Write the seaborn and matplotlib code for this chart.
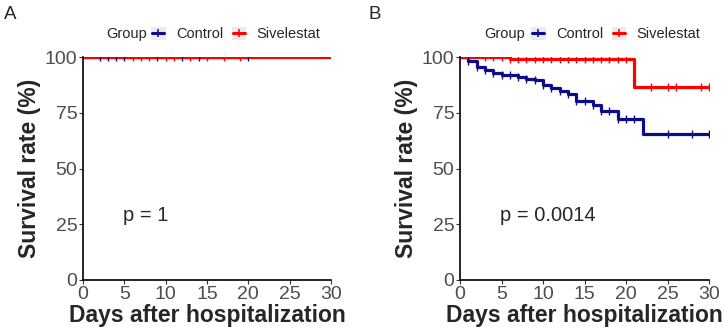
import matplotlib
matplotlib.use("Agg")
import numpy as np
import pandas as pd
import seaborn as sns
import matplotlib.pyplot as plt
from matplotlib.legend_handler import HandlerBase
from matplotlib.patches import Rectangle
from matplotlib.lines import Line2D

# ---------------- data ----------------
groups = ["Control", "Sivelestat"]
colors = {"Control": "#0B0B8C", "Sivelestat": "#FF0000"}

# Panel A
a_ctrl_time = [0, 20]
a_ctrl_surv = [100, 100]
a_ctrl_cens = [2, 3, 4, 5, 9, 12, 14, 20]
a_siv_time = [0, 30]
a_siv_surv = [100, 100]
a_siv_cens = [6, 7, 8, 10, 11, 13, 15, 17, 19]
a_pval = "p = 1"

# Panel B
b_ctrl_time = [0, 1, 2, 3, 4, 5, 7, 8, 9, 10, 11, 12, 13, 14, 16, 17, 19, 22, 30]
b_ctrl_surv = [100, 98.4, 95.5, 94.2, 93.0, 92.1, 91.1, 90.2, 89.5, 87.6, 86.0,
               84.6, 83.2, 80.4, 78.5, 75.6, 72.0, 65.6, 65.6]
b_ctrl_cens = [1, 2, 3, 4, 5, 6, 7, 8, 9, 10, 11, 12, 13, 14, 15, 16, 17, 18,
               19, 20, 21, 25, 28, 30]
b_siv_time = [0, 6, 21, 30]
b_siv_surv = [100, 98.9, 86.6, 86.6]
b_siv_cens = [3, 4, 5, 6, 7, 8, 9, 10, 11, 12, 13, 14, 15, 16, 17, 18, 19, 20,
              23, 25, 26, 29, 30]
b_pval = "p = 0.0014"

x_ticks = [0, 5, 10, 15, 20, 25, 30]
y_ticks = [0, 25, 50, 75, 100]

# ---------------- style ----------------
sns.set_theme(style="white")
plt.rcParams["font.family"] = ["Liberation Sans", "DejaVu Sans"]

W, H = 724, 331
fig = plt.figure(figsize=(W / 100, H / 100), dpi=100)


def step_value(times, survs, t):
    idx = np.searchsorted(np.asarray(times), t, side="right") - 1
    return survs[idx]


class KeyHandler(HandlerBase):
    def create_artists(self, legend, orig_handle, xdescent, ydescent,
                       width, height, fontsize, trans):
        rect = Rectangle((-xdescent, -ydescent), width, height,
                         facecolor="#EBEBEB", edgecolor="none", transform=trans)
        y = -ydescent + height / 2
        ln = Line2D([-xdescent + 1, -xdescent + width - 1], [y, y],
                    color=orig_handle.get_color(), lw=2.2, transform=trans)
        mk = Line2D([-xdescent + width / 2], [y], marker="|", markersize=6,
                    mew=1.1, color=orig_handle.get_color(), lw=0,
                    transform=trans)
        return [rect, ln, mk]


def panel(rect, data, pval, letter, letter_x, group_x, leg_x):
    ax = fig.add_axes(rect)
    frames = []
    cens_frames = []
    for g, (tt, ss, cc) in data.items():
        frames.append(pd.DataFrame({"time": tt, "surv": ss, "Group": g}))
        cens_frames.append(pd.DataFrame({
            "time": cc,
            "surv": [step_value(tt, ss, c) for c in cc],
            "Group": g}))
    df = pd.concat(frames, ignore_index=True)
    dc = pd.concat(cens_frames, ignore_index=True)
    for g in groups:
        sub = df[df.Group == g]
        sns.lineplot(data=sub, x="time", y="surv", color=colors[g], lw=2.3,
                     drawstyle="steps-post", ax=ax, legend=False,
                     estimator=None, sort=False)
        subc = dc[dc.Group == g]
        sns.scatterplot(data=subc, x="time", y="surv", marker="|", s=28,
                        linewidth=1.0, color=colors[g], ax=ax, legend=False,
                        zorder=3)
    ax.set_xlim(0, 30)
    ax.set_ylim(0, 100)
    ax.set_xticks(x_ticks)
    ax.set_yticks(y_ticks)
    for s in ["top", "right"]:
        ax.spines[s].set_visible(False)
    for s in ["left", "bottom"]:
        ax.spines[s].set_color("black")
        ax.spines[s].set_linewidth(1.2)
    ax.tick_params(direction="out", length=3, width=0.8, color="#333333",
                   labelsize=14, labelcolor="#4D4D4D", pad=1,
                   bottom=True, left=True)
    ax.set_xlabel("Days after hospitalization", fontsize=16.5,
                  fontweight="bold", labelpad=1)
    ax.set_ylabel("Survival rate (%)", fontsize=16.5, fontweight="bold",
                  labelpad=3)
    ax.text(4.8, 29, pval, fontsize=14.5, va="center", ha="left")

    fig.text(letter_x / W, 1 - 19 / H, letter, fontsize=13.5,
             va="baseline", ha="left")
    fig.text(group_x / W, 1 - 34 / H, "Group", fontsize=10.5,
             va="center", ha="left")
    handles = [Line2D([], [], color=colors[g]) for g in groups]
    ax.legend(handles, groups, ncol=2, loc="center left",
              bbox_to_anchor=(leg_x / W, 1 - 34 / H),
              bbox_transform=fig.transFigure, frameon=False, fontsize=10.5,
              handlelength=1.0, handleheight=1.0, handletextpad=0.7,
              columnspacing=0.6, borderpad=0, borderaxespad=0,
              handler_map={Line2D: KeyHandler()})
    return ax


data_a = {"Control": (a_ctrl_time, a_ctrl_surv, a_ctrl_cens),
          "Sivelestat": (a_siv_time, a_siv_surv, a_siv_cens)}
data_b = {"Control": (b_ctrl_time, b_ctrl_surv, b_ctrl_cens),
          "Sivelestat": (b_siv_time, b_siv_surv, b_siv_cens)}

panel([83 / W, 51 / H, 248 / W, 223 / H], data_a, a_pval, "A", 4, 106, 151)
panel([460 / W, 51 / H, 249 / W, 223 / H], data_b, b_pval, "B", 369, 484, 531)

fig.savefig("out.png", dpi=100)
